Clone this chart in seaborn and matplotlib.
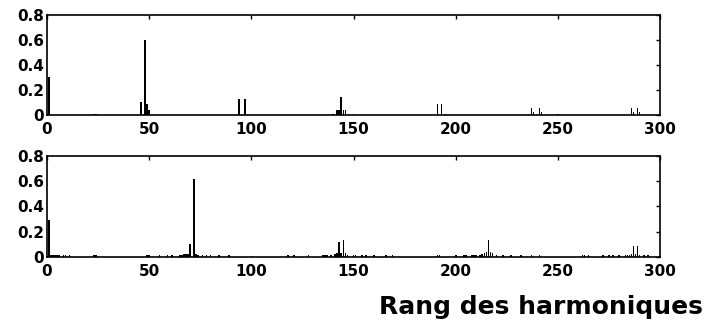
#!/usr/bin/env python3
"""Harmonic spectra of two PWM signals (MATLAB-style stem bars)."""

import matplotlib

matplotlib.use("Agg")
import matplotlib.pyplot as plt
import seaborn as sns

# --- data ------------------------------------------------------------------
top_harm = [1, 23, 24, 46, 48, 49, 50, 94, 97, 140, 142, 143, 144, 145, 146,
            150, 191, 193, 195, 237, 238, 241, 242, 250, 286, 287, 289, 290]
top_amp = [0.30, 0.01, 0.01, 0.10, 0.60, 0.09, 0.04, 0.125, 0.125, 0.01, 0.04,
           0.04, 0.14, 0.04, 0.04, 0.01, 0.085, 0.085, 0.01, 0.055, 0.02,
           0.055, 0.02, 0.01, 0.055, 0.02, 0.055, 0.02]

bot_harm = [1, 2, 3, 4, 5, 6, 8, 9, 11, 23, 24, 49, 50, 55, 59, 61, 65, 66,
            67, 68, 69, 70, 72, 73, 74, 76, 78, 80, 84, 89, 100, 118, 121, 128,
            135, 136, 137, 139, 141, 142, 143, 144, 145, 146, 147, 150, 151,
            154, 156, 160, 166, 169, 191, 192, 200, 204, 205, 208, 209, 210,
            212, 213, 214, 215, 216, 217, 218, 220, 223, 227, 232, 237, 241,
            262, 263, 265, 272, 275, 277, 280, 283, 284, 285, 286, 287, 288,
            289, 290, 292, 294]
bot_amp = [0.29, 0.015, 0.012, 0.012, 0.015, 0.012, 0.012, 0.012, 0.012,
           0.012, 0.012, 0.012, 0.015, 0.012, 0.012, 0.012, 0.015, 0.015,
           0.02, 0.02, 0.02, 0.10, 0.62, 0.02, 0.015, 0.012, 0.012, 0.012,
           0.012, 0.012, 0.01, 0.012, 0.012, 0.012, 0.015, 0.015, 0.012,
           0.015, 0.02, 0.03, 0.12, 0.03, 0.135, 0.03, 0.015, 0.015, 0.012,
           0.012, 0.012, 0.012, 0.012, 0.012, 0.012, 0.012, 0.012, 0.015,
           0.012, 0.015, 0.015, 0.015, 0.015, 0.02, 0.03, 0.04, 0.135, 0.04,
           0.03, 0.015, 0.012, 0.012, 0.012, 0.012, 0.012, 0.012, 0.012,
           0.012, 0.012, 0.012, 0.012, 0.012, 0.015, 0.015, 0.015, 0.02,
           0.085, 0.02, 0.085, 0.015, 0.012, 0.012]

x_ticks = [0, 50, 100, 150, 200, 250, 300]
y_ticks = [0, 0.2, 0.4, 0.6, 0.8]
y_tick_labels = ["0", "0.2", "0.4", "0.6", "0.8"]
x_label = "Rang des harmoniques"


def draw_spectrum(ax, harm, amp):
    sns.barplot(x=harm, y=amp, native_scale=True, width=0.8, color="black",
                saturation=1, linewidth=0, errorbar=None, ax=ax)
    ax.set_xlim(0, 300)
    ax.set_ylim(0, 0.8)
    ax.set_xticks(x_ticks)
    ax.set_xticklabels([str(t) for t in x_ticks])
    ax.set_yticks(y_ticks)
    ax.set_yticklabels(y_tick_labels)
    ax.set_xlabel("")
    ax.set_ylabel("")
    ax.tick_params(direction="in", top=True, right=True, length=3, width=1,
                   labelsize=11, colors="black")
    ax.tick_params(axis="y", pad=2)
    ax.tick_params(axis="x", pad=5)
    for lab in ax.get_xticklabels() + ax.get_yticklabels():
        lab.set_fontweight("bold")
    for sp in ax.spines.values():
        sp.set_visible(True)
        sp.set_color("black")
        sp.set_linewidth(1.2)


sns.set_theme(style="white")
plt.rcParams["font.family"] = ["DejaVu Sans"]

fig = plt.figure(figsize=(7.17, 3.22), dpi=100)
ax_top = fig.add_axes([0.0656, 0.6429, 0.855, 0.3106])
ax_bot = fig.add_axes([0.0656, 0.2019, 0.855, 0.3137])

draw_spectrum(ax_top, top_harm, top_amp)
draw_spectrum(ax_bot, bot_harm, bot_amp)

fig.text(0.755, 0.024, x_label, ha="center", va="baseline", fontsize=18,
         fontweight="bold", color="black")

fig.savefig("out.png", dpi=100, facecolor="white")
plt.close(fig)
